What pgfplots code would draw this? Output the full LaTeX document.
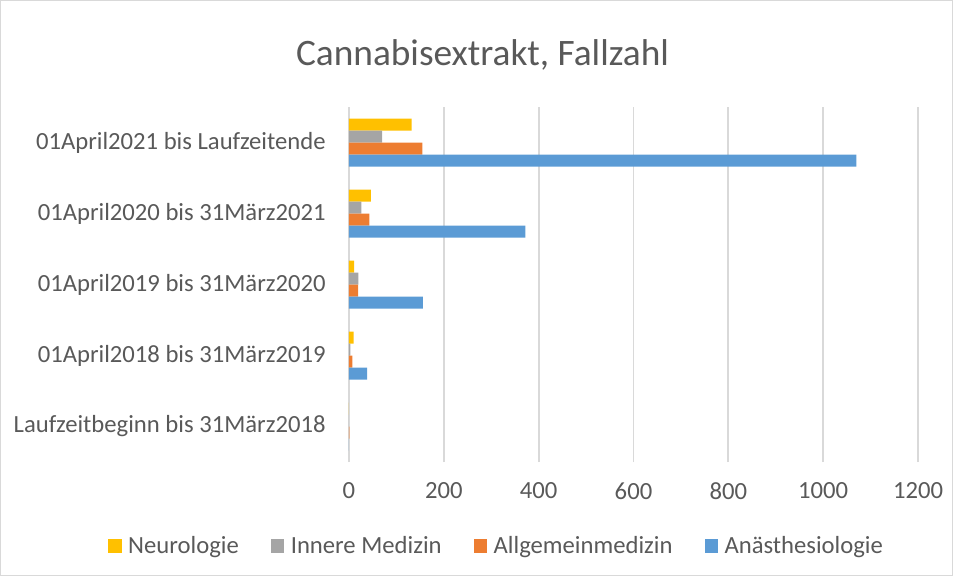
\documentclass[border=0pt]{standalone}
\usepackage{fontspec}
\setmainfont{Carlito}
\usepackage{pgfplots}
\pgfplotsset{compat=1.18}
\definecolor{cyel}{HTML}{FFC000}
\definecolor{cgray}{HTML}{A5A5A5}
\definecolor{corange}{HTML}{ED7D31}
\definecolor{cblue}{HTML}{5B9BD5}
\definecolor{gridc}{HTML}{D9D9D9}
\definecolor{txt}{HTML}{595959}
\begin{document}
\begin{tikzpicture}
\path[use as bounding box] (0,0) rectangle (714.75pt,432pt);
\draw[gridc, line width=0.75pt] (0.4pt,0.4pt) rectangle (714.35pt,431.6pt);
\node[text=txt, font=\fontsize{28}{32}\selectfont] at (361.9pt,390.75pt) {Cannabisextrakt, Fallzahl};
\begin{axis}[
  at={(261.75pt,85.5pt)}, anchor=south west,
  scale only axis, width=426.75pt, height=266.25pt,
  xbar, bar width=9pt,
  xmin=0, xmax=1200, ymin=-0.5, ymax=4.5,
  xtick={0,200,...,1200},
  ytick={0,1,2,3,4},
  yticklabels={Laufzeitbeginn bis 31März2018, 01April2018 bis 31März2019, 01April2019 bis 31März2020, 01April2020 bis 31März2021, 01April2021 bis Laufzeitende},
  axis line style={draw=none},
  major tick length=0pt,
  xmajorgrids=true, ymajorgrids=false,
  grid style={draw=gridc, line width=1.3pt},
  tick label style={text=txt, font=\fontsize{18.5}{22}\selectfont},
  /pgf/number format/assume math mode=true,
  /pgf/number format/set thousands separator={},
  xticklabel style={yshift=-12pt},
  yticklabel style={xshift=-14pt},
  legend style={at={(0.26,-0.237)}, anchor=center, draw=none, fill=none,
    legend columns=4, font=\fontsize{18.5}{22}\selectfont, text=txt,
    /tikz/every even column/.append style={column sep=22pt},
    /tikz/every odd column/.append style={column sep=3pt}},
  legend image code/.code={\fill[#1] (0pt,-4.8pt) rectangle (10pt,5pt);},
]
\addplot[fill=cyel, draw=none, bar shift=13.5pt] coordinates {(0,0) (10,1) (11,2) (46,3) (132,4)};
\addplot[fill=cgray, draw=none, bar shift=4.5pt] coordinates {(0,0) (3,1) (20,2) (26,3) (70,4)};
\addplot[fill=corange, draw=none, bar shift=-4.5pt] coordinates {(1,0) (7,1) (19,2) (43,3) (155,4)};
\addplot[fill=cblue, draw=none, bar shift=-13.5pt] coordinates {(0,0) (38,1) (156,2) (372,3) (1070,4)};
\legend{Neurologie, Innere Medizin, Allgemeinmedizin, Anästhesiologie}
\end{axis}
\end{tikzpicture}
\end{document}
